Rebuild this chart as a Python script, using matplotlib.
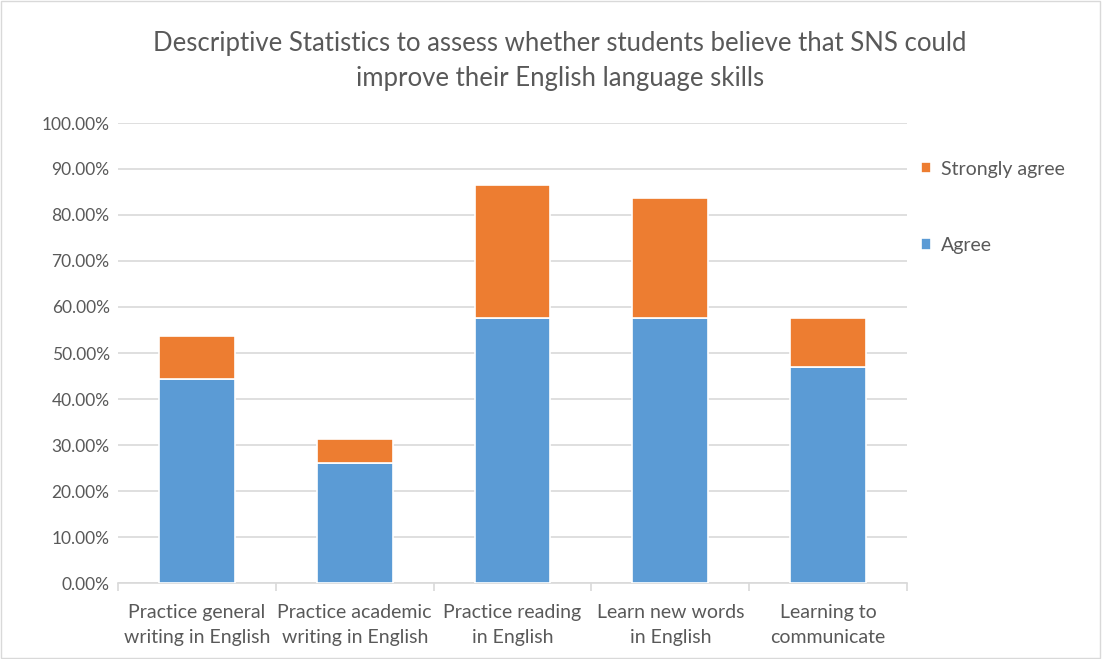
import matplotlib.pyplot as plt
import numpy as np
from matplotlib.patches import Rectangle

# dane
categories = ["Practice general\nwriting in English", "Practice academic\nwriting in English",
              "Practice reading\nin English", "Learn new words\nin English", "Learning to\ncommunicate"]
agree = [44.3, 26.0, 57.7, 57.7, 47.0]
strongly_agree = [9.4, 5.2, 28.8, 26.1, 10.6]

plt.rcParams['font.family'] = ['Lato', 'DejaVu Sans']

fig = plt.figure(figsize=(11.02, 6.59), dpi=100)
ax = fig.add_axes([118 / 1102, 1 - 583 / 659, (907 - 118) / 1102, (583 - 123) / 659])

x = np.arange(len(categories))
blue = '#5b9bd5'
orange = '#ed7d31'
ax.bar(x, agree, width=0.48, color=blue, edgecolor='white', linewidth=1.2, label='Agree', zorder=3)
ax.bar(x, strongly_agree, width=0.48, bottom=agree, color=orange, edgecolor='white', linewidth=1.2,
       label='Strongly agree', zorder=3)

ax.set_xlim(-0.5, len(categories) - 0.5)
ax.set_ylim(0, 100)
ax.set_yticks(np.arange(0, 101, 10))
ax.set_yticklabels([f"{v:.2f}%" for v in np.arange(0, 101, 10)], fontsize=12.5, color='#595959')
ax.yaxis.grid(True, color='#d9d9d9', linewidth=1.2, zorder=0)
ax.tick_params(axis='y', length=0, pad=6)

ax.set_xticks(x)
ax.set_xticklabels(categories, fontsize=14, color='#595959', linespacing=1.55)
ax.tick_params(axis='x', length=0, pad=15)
# znaczniki między kategoriami
ax.set_xticks(np.arange(-0.5, len(categories), 1), minor=True)
ax.tick_params(axis='x', which='minor', length=6, color='#d9d9d9', width=1.2)

for s in ['top', 'right', 'left']:
    ax.spines[s].set_visible(False)
ax.spines['bottom'].set_color('#d9d9d9')
ax.spines['bottom'].set_linewidth(1.2)

fig.text(0.508, 1 - 61 / 659, "Descriptive Statistics to assess whether students believe that SNS could\nimprove their English language skills",
         ha='center', va='center', fontsize=18.5, color='#595959', linespacing=1.5)

handles, labels = ax.get_legend_handles_labels()
ax.legend(handles[::-1], labels[::-1], loc='upper left', bbox_to_anchor=(903 / 1102, 1 - 143 / 659),
          bbox_transform=fig.transFigure, frameon=False, fontsize=14, labelcolor='#595959',
          handlelength=0.55, handleheight=0.55, handletextpad=0.5, labelspacing=3.05)

# ramka wykresu
fig.patches.append(Rectangle((0.001, 0.002), 0.997, 0.996, transform=fig.transFigure,
                             fill=False, edgecolor='#d9d9d9', linewidth=1))

plt.savefig('out.png', dpi=100)
